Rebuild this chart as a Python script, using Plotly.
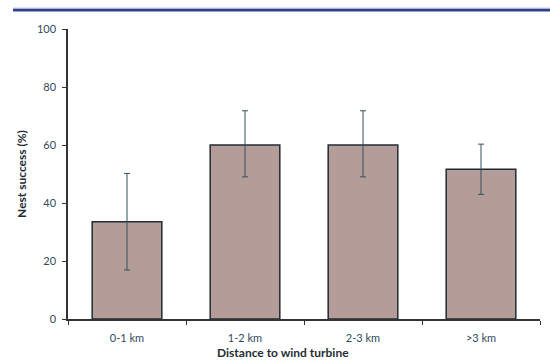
import plotly.graph_objects as go

categories = ["0-1 km", "1-2 km", "2-3 km", ">3 km"]
nest_success = [33.5, 60.0, 60.0, 51.6]
err_plus = [16.7, 11.8, 11.8, 8.7]
err_minus = [16.6, 11.0, 11.0, 8.6]
y_ticks = [0, 20, 40, 60, 80, 100]

fig = go.Figure()
fig.add_trace(go.Bar(
    x=categories, y=nest_success, width=0.59,
    marker=dict(color="#b49c99", line=dict(color="#1f2d33", width=1.5)),
    error_y=dict(type="data", array=err_plus, arrayminus=err_minus, symmetric=False,
                 color="#34505c", thickness=1, width=3),
))

tick_font = dict(family="Lato, Open Sans, sans-serif", size=11, color="#2f4a5a")
title_font = dict(family="Lato, Open Sans, sans-serif", size=12, color="#1f2d33")
fig.update_layout(
    width=550, height=360,
    margin=dict(l=68, r=10, t=29, b=41),
    plot_bgcolor="white", paper_bgcolor="white",
    showlegend=False,
    xaxis=dict(showline=True, linecolor="#333333", linewidth=1.5, ticks="outside",
               ticklen=4, tickcolor="#333333", tickson="boundaries",
               ticklabelstandoff=8,
               tickfont=tick_font, showgrid=False, fixedrange=True),
    yaxis=dict(range=[0, 100], tickvals=y_ticks, showline=True, linecolor="#333333",
               linewidth=1.5, ticks="outside", ticklen=4, tickcolor="#333333",
               ticklabelstandoff=4,
               tickfont=tick_font, showgrid=False, zeroline=False, fixedrange=True,
               title=dict(text="<b>Nest success (%)</b>", font=title_font, standoff=8)),
    shapes=[
        dict(type="line", xref="paper", yref="paper", x0=-0.1165, x1=1.03, y0=1.0655, y1=1.0655,
             line=dict(color="#2e4191", width=3)),
        dict(type="line", xref="paper", yref="paper", x0=-0.1165, x1=1.03, y0=1.0724, y1=1.0724,
             line=dict(color="#c8cde0", width=1)),
    ],
    annotations=[
        dict(text="<b>Distance to wind turbine</b>", xref="paper", yref="paper",
             x=0.455, y=-0.115, xanchor="center", yanchor="middle", showarrow=False,
             font=title_font),
    ],
)

fig.write_html("out.html", config={"displayModeBar": False},
               post_script="document.body.style.margin='0';document.body.style.overflow='hidden';")
